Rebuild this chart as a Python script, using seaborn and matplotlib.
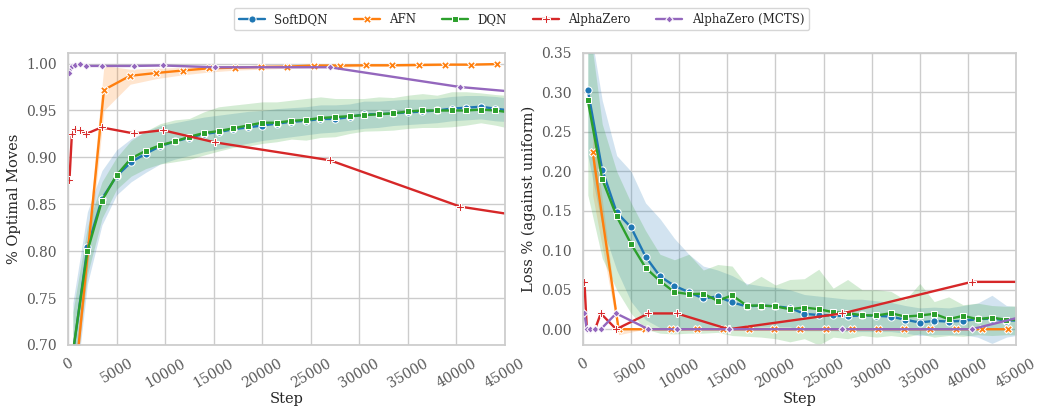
import numpy as np
import pandas as pd
import matplotlib
matplotlib.use("Agg")
import matplotlib.pyplot as plt
import seaborn as sns

sns.set_theme(style="whitegrid")
plt.rcParams["font.family"] = ["DejaVu Serif"]

methods = ["SoftDQN", "AFN", "DQN", "AlphaZero", "AlphaZero (MCTS)"]

# ---- DQN-family checkpoints ----
dqn_steps = [500, 2000, 3500, 5000, 6500, 8000, 9500, 11000, 12500, 14000, 15500,
             17000, 18500, 20000, 21500, 23000, 24500, 26000, 27500, 29000, 30500,
             32000, 33500, 35000, 36500, 38000, 39500, 41000, 42500, 44000, 45500]

softdqn_opt = [0.690, 0.804, 0.856, 0.880, 0.895, 0.904, 0.912, 0.917, 0.921, 0.925, 0.927,
               0.930, 0.932, 0.934, 0.936, 0.938, 0.939, 0.941, 0.941, 0.943, 0.946,
               0.946, 0.947, 0.948, 0.949, 0.950, 0.952, 0.953, 0.954, 0.952, 0.950]
softdqn_opt_lo = [0.630, 0.765, 0.828, 0.860, 0.874, 0.884, 0.893, 0.898, 0.902, 0.906, 0.909,
                  0.912, 0.915, 0.918, 0.920, 0.922, 0.924, 0.926, 0.927, 0.929, 0.931,
                  0.932, 0.934, 0.935, 0.936, 0.937, 0.939, 0.940, 0.941, 0.939, 0.938]
softdqn_opt_hi = [0.745, 0.842, 0.886, 0.908, 0.920, 0.928, 0.934, 0.937, 0.940, 0.943, 0.945,
                  0.947, 0.949, 0.950, 0.952, 0.953, 0.954, 0.956, 0.956, 0.957, 0.960,
                  0.960, 0.961, 0.962, 0.962, 0.963, 0.965, 0.966, 0.966, 0.965, 0.963]

dqn_opt = [0.692, 0.800, 0.854, 0.881, 0.899, 0.907, 0.913, 0.917, 0.922, 0.926, 0.928,
           0.931, 0.934, 0.937, 0.937, 0.939, 0.940, 0.942, 0.943, 0.944, 0.945,
           0.946, 0.947, 0.949, 0.950, 0.950, 0.950, 0.950, 0.951, 0.950, 0.948]
dqn_opt_lo = [0.650, 0.775, 0.835, 0.866, 0.880, 0.888, 0.893, 0.8954, 0.8979, 0.9025, 0.9067,
              0.9106, 0.912, 0.9149, 0.9167, 0.9195, 0.9184, 0.9213, 0.922, 0.9255, 0.928,
              0.9284, 0.9291, 0.9309, 0.9319, 0.9319, 0.9326, 0.9344, 0.9369, 0.9344, 0.931]
dqn_opt_hi = [0.735, 0.826, 0.874, 0.900, 0.918, 0.928, 0.936, 0.940, 0.9415, 0.9486, 0.9539,
              0.9557, 0.9574, 0.9592, 0.9592, 0.961, 0.9628, 0.9645, 0.9628, 0.9628, 0.9628,
              0.9645, 0.9638, 0.9663, 0.968, 0.9663, 0.970, 0.970, 0.9688, 0.967, 0.966]

softdqn_loss = [0.303, 0.2017, 0.148, 0.129, 0.092, 0.067, 0.055, 0.047, 0.039, 0.0415, 0.034,
                0.029, 0.030, 0.029, 0.027, 0.0195, 0.018, 0.0175, 0.0165, 0.0175, 0.017,
                0.016, 0.012, 0.0085, 0.0106, 0.0097, 0.0106, 0.0127, 0.0135, 0.011, 0.011]
softdqn_loss_lo = [0.22, 0.13, 0.075, 0.035, 0.012, 0.002, -0.003, 0.0, 0.0, 0.004, 0.002,
                   0.002, 0.003, 0.003, 0.003, -0.002, -0.002, -0.002, -0.003, -0.003, -0.003,
                   -0.003, -0.005, -0.008, -0.007, -0.007, -0.007, -0.010, -0.018, -0.010, -0.007]
softdqn_loss_hi = [0.40, 0.29, 0.22, 0.20, 0.16, 0.14, 0.115, 0.095, 0.080, 0.075, 0.068,
                   0.058, 0.055, 0.053, 0.050, 0.044, 0.042, 0.040, 0.038, 0.038, 0.036,
                   0.034, 0.030, 0.027, 0.028, 0.027, 0.030, 0.033, 0.043, 0.030, 0.028]

dqn_loss = [0.290, 0.190, 0.143, 0.108, 0.078, 0.061, 0.047, 0.0445, 0.045, 0.036, 0.043,
            0.030, 0.030, 0.029, 0.0254, 0.0275, 0.0254, 0.0216, 0.0203, 0.0178, 0.0174,
            0.0203, 0.016, 0.0174, 0.0195, 0.0127, 0.017, 0.0127, 0.0148, 0.0119, 0.012]
dqn_loss_lo = [0.17, 0.09, 0.05, 0.02, 0.0, -0.005, -0.006, -0.005, -0.005, -0.004, -0.008,
               -0.009, -0.010, -0.012, -0.016, -0.012, -0.020, -0.010, -0.012, -0.008, -0.010,
               -0.008, -0.010, -0.006, -0.010, -0.008, -0.009, -0.007, -0.008, -0.007, -0.007]
dqn_loss_hi = [0.40, 0.26, 0.20, 0.16, 0.125, 0.095, 0.088, 0.095, 0.075, 0.082, 0.080,
               0.056, 0.067, 0.056, 0.063, 0.064, 0.076, 0.052, 0.063, 0.050, 0.050,
               0.048, 0.037, 0.058, 0.035, 0.041, 0.031, 0.033, 0.030, 0.029, 0.030]

# ---- AFN checkpoints ----
afn_steps = [1000, 3700, 6400, 9100, 11800, 14500, 17200, 19900, 22600, 25300, 28000,
             30700, 33400, 36100, 38800, 41500, 44200]
afn_opt = [0.690, 0.972, 0.987, 0.990, 0.9926, 0.995, 0.9957, 0.9965, 0.9968, 0.9979, 0.9979,
           0.9982, 0.9982, 0.9986, 0.9989, 0.9989, 0.9995]
afn_opt_lo = [0.680, 0.950, 0.978, 0.984, 0.988, 0.991, 0.993, 0.994, 0.995, 0.996, 0.996,
              0.997, 0.997, 0.997, 0.998, 0.998, 0.999]
afn_opt_hi = [0.700, 0.998, 0.994, 0.995, 0.996, 0.998, 0.998, 0.998, 0.998, 0.999, 0.999,
              0.999, 0.999, 0.9995, 0.9995, 0.9995, 1.000]
afn_loss = [0.225, 0.0, 0.0, 0.0, 0.0, 0.0, 0.0, 0.0, 0.0, 0.0, 0.0,
            0.0, 0.0, 0.0, 0.0, 0.0, 0.0]
afn_loss_lo = [0.17, -0.007, 0.0, 0.0, 0.0, 0.0, 0.0, 0.0, 0.0, 0.0, 0.0,
               0.0, 0.0, 0.0, 0.0, 0.0, 0.0]
afn_loss_hi = [0.26, 0.003, 0.0, 0.0, 0.0, 0.0, 0.0, 0.0, 0.0, 0.0, 0.0,
               0.0, 0.0, 0.0, 0.0, 0.0, 0.0]

# ---- AlphaZero checkpoints ----
az_steps = [150, 400, 750, 1250, 1850, 3450, 6800, 9750, 15150, 26950, 40400, 47000]
az_opt = [0.876, 0.925, 0.930, 0.929, 0.925, 0.932, 0.9255, 0.929, 0.916, 0.897, 0.8475, 0.837]
az_loss = [0.06, 0.0, 0.0, 0.0, 0.02, 0.0, 0.02, 0.02, 0.0, 0.02, 0.06, 0.06]
mcts_opt = [0.990, 0.997, 0.999, 0.9995, 0.9975, 0.9975, 0.9975, 0.998, 0.9961, 0.9961, 0.975, 0.969]
mcts_loss = [0.02, 0.0, 0.0, 0.0, 0.0, 0.02, 0.0, 0.0, 0.0, 0.0, 0.0, 0.02]

# ---- long-form table ----
frames = [
    pd.DataFrame({"Method": "SoftDQN", "Step": dqn_steps, "opt": softdqn_opt, "loss": softdqn_loss}),
    pd.DataFrame({"Method": "AFN", "Step": afn_steps, "opt": afn_opt, "loss": afn_loss}),
    pd.DataFrame({"Method": "DQN", "Step": dqn_steps, "opt": dqn_opt, "loss": dqn_loss}),
    pd.DataFrame({"Method": "AlphaZero", "Step": az_steps, "opt": az_opt, "loss": az_loss}),
    pd.DataFrame({"Method": "AlphaZero (MCTS)", "Step": az_steps, "opt": mcts_opt, "loss": mcts_loss}),
]
df = pd.concat(frames, ignore_index=True)

bands = {
    "opt": [("SoftDQN", dqn_steps, softdqn_opt_lo, softdqn_opt_hi),
            ("AFN", afn_steps, afn_opt_lo, afn_opt_hi),
            ("DQN", dqn_steps, dqn_opt_lo, dqn_opt_hi)],
    "loss": [("SoftDQN", dqn_steps, softdqn_loss_lo, softdqn_loss_hi),
             ("AFN", afn_steps, afn_loss_lo, afn_loss_hi),
             ("DQN", dqn_steps, dqn_loss_lo, dqn_loss_hi)],
}

pal = dict(zip(methods, sns.color_palette("tab10", 5)))

fig = plt.figure(figsize=(10.43, 4.08), dpi=100)
ax1 = fig.add_axes([68 / 1043, 1 - 345 / 408, (505 - 68) / 1043, (345 - 53) / 408])
ax2 = fig.add_axes([583 / 1043, 1 - 345 / 408, (1016 - 583) / 1043, (345 - 53) / 408])

for ax, col in ((ax1, "opt"), (ax2, "loss")):
    sns.lineplot(data=df, x="Step", y=col, hue="Method", style="Method",
                 hue_order=methods, style_order=methods, markers=True, dashes=False,
                 palette=pal, errorbar=None, ax=ax, linewidth=1.7, markersize=5.2,
                 markeredgewidth=0.75, markeredgecolor="white")
    for m, st, lo, hi in bands[col]:
        ax.fill_between(st, lo, hi, color=pal[m], alpha=0.2, linewidth=0, zorder=1)
    ax.set_xlim(0, 45000)
    ax.set_xticks(range(0, 45001, 5000))
    ax.set_xlabel("Step", fontsize=10.5, labelpad=1, color="0.15")
    ax.tick_params(labelsize=10, pad=2, labelcolor="0.35")
    for lab in ax.get_xticklabels():
        lab.set_rotation(30)

ax1.set_ylim(0.70, 1.0113)
ax1.set_yticks([0.70, 0.75, 0.80, 0.85, 0.90, 0.95, 1.00])
ax1.set_yticklabels(["0.70", "0.75", "0.80", "0.85", "0.90", "0.95", "1.00"])
ax1.set_ylabel("% Optimal Moves", fontsize=10.5, color="0.15")

ax2.set_ylim(-0.02, 0.35)
ax2.set_yticks([0.00, 0.05, 0.10, 0.15, 0.20, 0.25, 0.30, 0.35])
ax2.set_yticklabels(["0.00", "0.05", "0.10", "0.15", "0.20", "0.25", "0.30", "0.35"])
ax2.set_ylabel("Loss % (against uniform)", fontsize=10.5, color="0.15")

handles, labels = ax1.get_legend_handles_labels()
ax1.get_legend().remove()
ax2.get_legend().remove()
fig.legend(handles, labels, loc="upper center", ncol=5, bbox_to_anchor=(0.5, 0.995),
           fontsize=8.5, frameon=True, handlelength=2.2, columnspacing=2.2)

fig.savefig("out.png", dpi=100)
